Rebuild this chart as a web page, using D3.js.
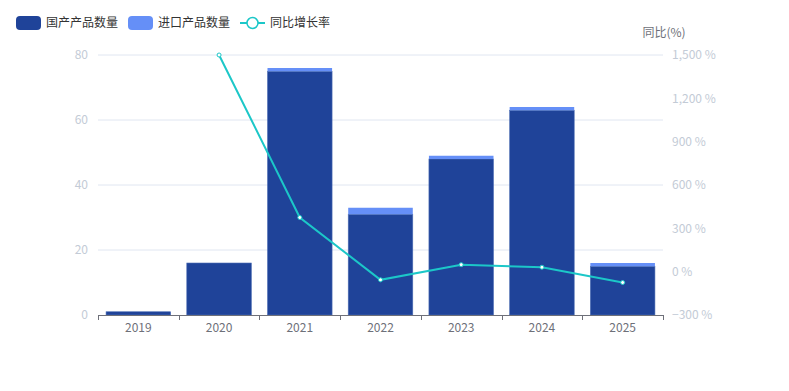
<!DOCTYPE html>
<html><head><meta charset="utf-8">
<script src="https://cdn.jsdelivr.net/npm/d3@7"></script>
<style>body{margin:0;background:#fff;font-family:"Noto Sans CJK SC","Microsoft YaHei",sans-serif;}</style>
</head><body><svg id="c" width="789" height="391"></svg>
<script>
const years = ["2019","2020","2021","2022","2023","2024","2025"];
const domestic = [1,16,75,31,48,63,15];
const imported = [0,0,1,2,1,1,1];
const growth = [null,1500,375,-56.6,48.5,30.6,-75];
const leftTicks = [0,20,40,60,80];
const rightTicks = [-300,0,300,600,900,1200,1500];
const seriesNames = ["国产产品数量","进口产品数量","同比增长率"];
const colors = ["#1f4399","#658ff7","#1cc7c8"];

const svg = d3.select("#c");
const L=98,R=663,T=55,B=315;
const x = d3.scaleBand().domain(years).range([L,R]).paddingInner(0.2).paddingOuter(0.1);
const xb = d3.scaleBand().domain(years).range([L,R]);
const y = d3.scaleLinear().domain([0,80]).range([B,T]);
const y2 = d3.scaleLinear().domain([-300,1500]).range([B,T]);
const font = "Noto Sans CJK SC, sans-serif";

// grid
svg.append("g").selectAll("line").data(leftTicks.filter(d=>d>0)).join("line")
  .attr("x1",L).attr("x2",R).attr("y1",d=>y(d)).attr("y2",d=>y(d))
  .attr("stroke","#e0e6f1").attr("stroke-width",1);
// left labels
svg.append("g").selectAll("text").data(leftTicks).join("text")
  .attr("x",88).attr("y",d=>y(d)).attr("dy","0.35em").attr("text-anchor","end")
  .attr("font-size",12).attr("font-family",font).attr("fill","#c3cbd6").text(d=>d);
// right labels
svg.append("g").selectAll("text").data(rightTicks).join("text")
  .attr("x",672).attr("y",d=>y2(d)).attr("dy","0.35em").attr("text-anchor","start")
  .attr("font-size",12).attr("font-family",font).attr("fill","#c3cbd6").text(d=>d3.format(",")(d)+" %");
svg.append("text").attr("x",664).attr("y",37).attr("text-anchor","middle")
  .attr("font-size",12).attr("font-family",font).attr("fill","#6e7079").text("同比(%)");

// bars
const bw = x.bandwidth();
svg.append("g").selectAll("rect").data(years).join("rect")
  .attr("x",d=>x(d)).attr("width",bw)
  .attr("y",(d,i)=>y(domestic[i])).attr("height",(d,i)=>y(0)-y(domestic[i]))
  .attr("fill",colors[0]).attr("stroke","#4f6fb5").attr("stroke-width",0.6);
svg.append("g").selectAll("rect").data(years).join("rect")
  .attr("x",d=>x(d)).attr("width",bw)
  .attr("y",(d,i)=>y(domestic[i]+imported[i])).attr("height",(d,i)=>y(domestic[i])-y(domestic[i]+imported[i]))
  .attr("fill",colors[1]);

// x axis
svg.append("line").attr("x1",L).attr("x2",R).attr("y1",B+0.5).attr("y2",B+0.5).attr("stroke","#6e7079");
const tickXs = years.map(d=>xb(d)).concat([R]);
svg.append("g").selectAll("line").data(tickXs).join("line")
  .attr("x1",d=>Math.round(d)+0.5).attr("x2",d=>Math.round(d)+0.5).attr("y1",B).attr("y2",B+5).attr("stroke","#6e7079");
svg.append("g").selectAll("text").data(years).join("text")
  .attr("x",d=>xb(d)+xb.bandwidth()/2).attr("y",B+17).attr("text-anchor","middle")
  .attr("font-size",12).attr("font-family",font).attr("fill","#6e7079").text(d=>d);

// line
const pts = years.map((d,i)=>({d,v:growth[i]})).filter(p=>p.v!==null);
svg.append("path").datum(pts)
  .attr("d",d3.line().x(p=>xb(p.d)+xb.bandwidth()/2).y(p=>y2(p.v)))
  .attr("fill","none").attr("stroke",colors[2]).attr("stroke-width",2);
svg.append("g").selectAll("circle").data(pts).join("circle")
  .attr("cx",p=>xb(p.d)+xb.bandwidth()/2).attr("cy",p=>y2(p.v)).attr("r",2)
  .attr("fill","#fff").attr("stroke",colors[2]).attr("stroke-width",1);

// legend
const lg = svg.append("g");
const lx = [16,128,240];
const ly = 23;
[0,1].forEach(i=>{
  lg.append("rect").attr("x",lx[i]).attr("y",ly-7).attr("width",25).attr("height",14).attr("rx",4).attr("fill",colors[i]);
});
lg.append("line").attr("x1",lx[2]).attr("x2",lx[2]+25).attr("y1",ly).attr("y2",ly).attr("stroke",colors[2]).attr("stroke-width",2);
lg.append("circle").attr("cx",lx[2]+12.5).attr("cy",ly).attr("r",5.5).attr("fill","#fff").attr("stroke",colors[2]).attr("stroke-width",1.5);
seriesNames.forEach((n,i)=>{
  lg.append("text").attr("x",lx[i]+30).attr("y",ly).attr("dy","0.35em")
    .attr("font-size",12).attr("font-family",font).attr("fill","#333").text(n);
});
</script></body></html>
